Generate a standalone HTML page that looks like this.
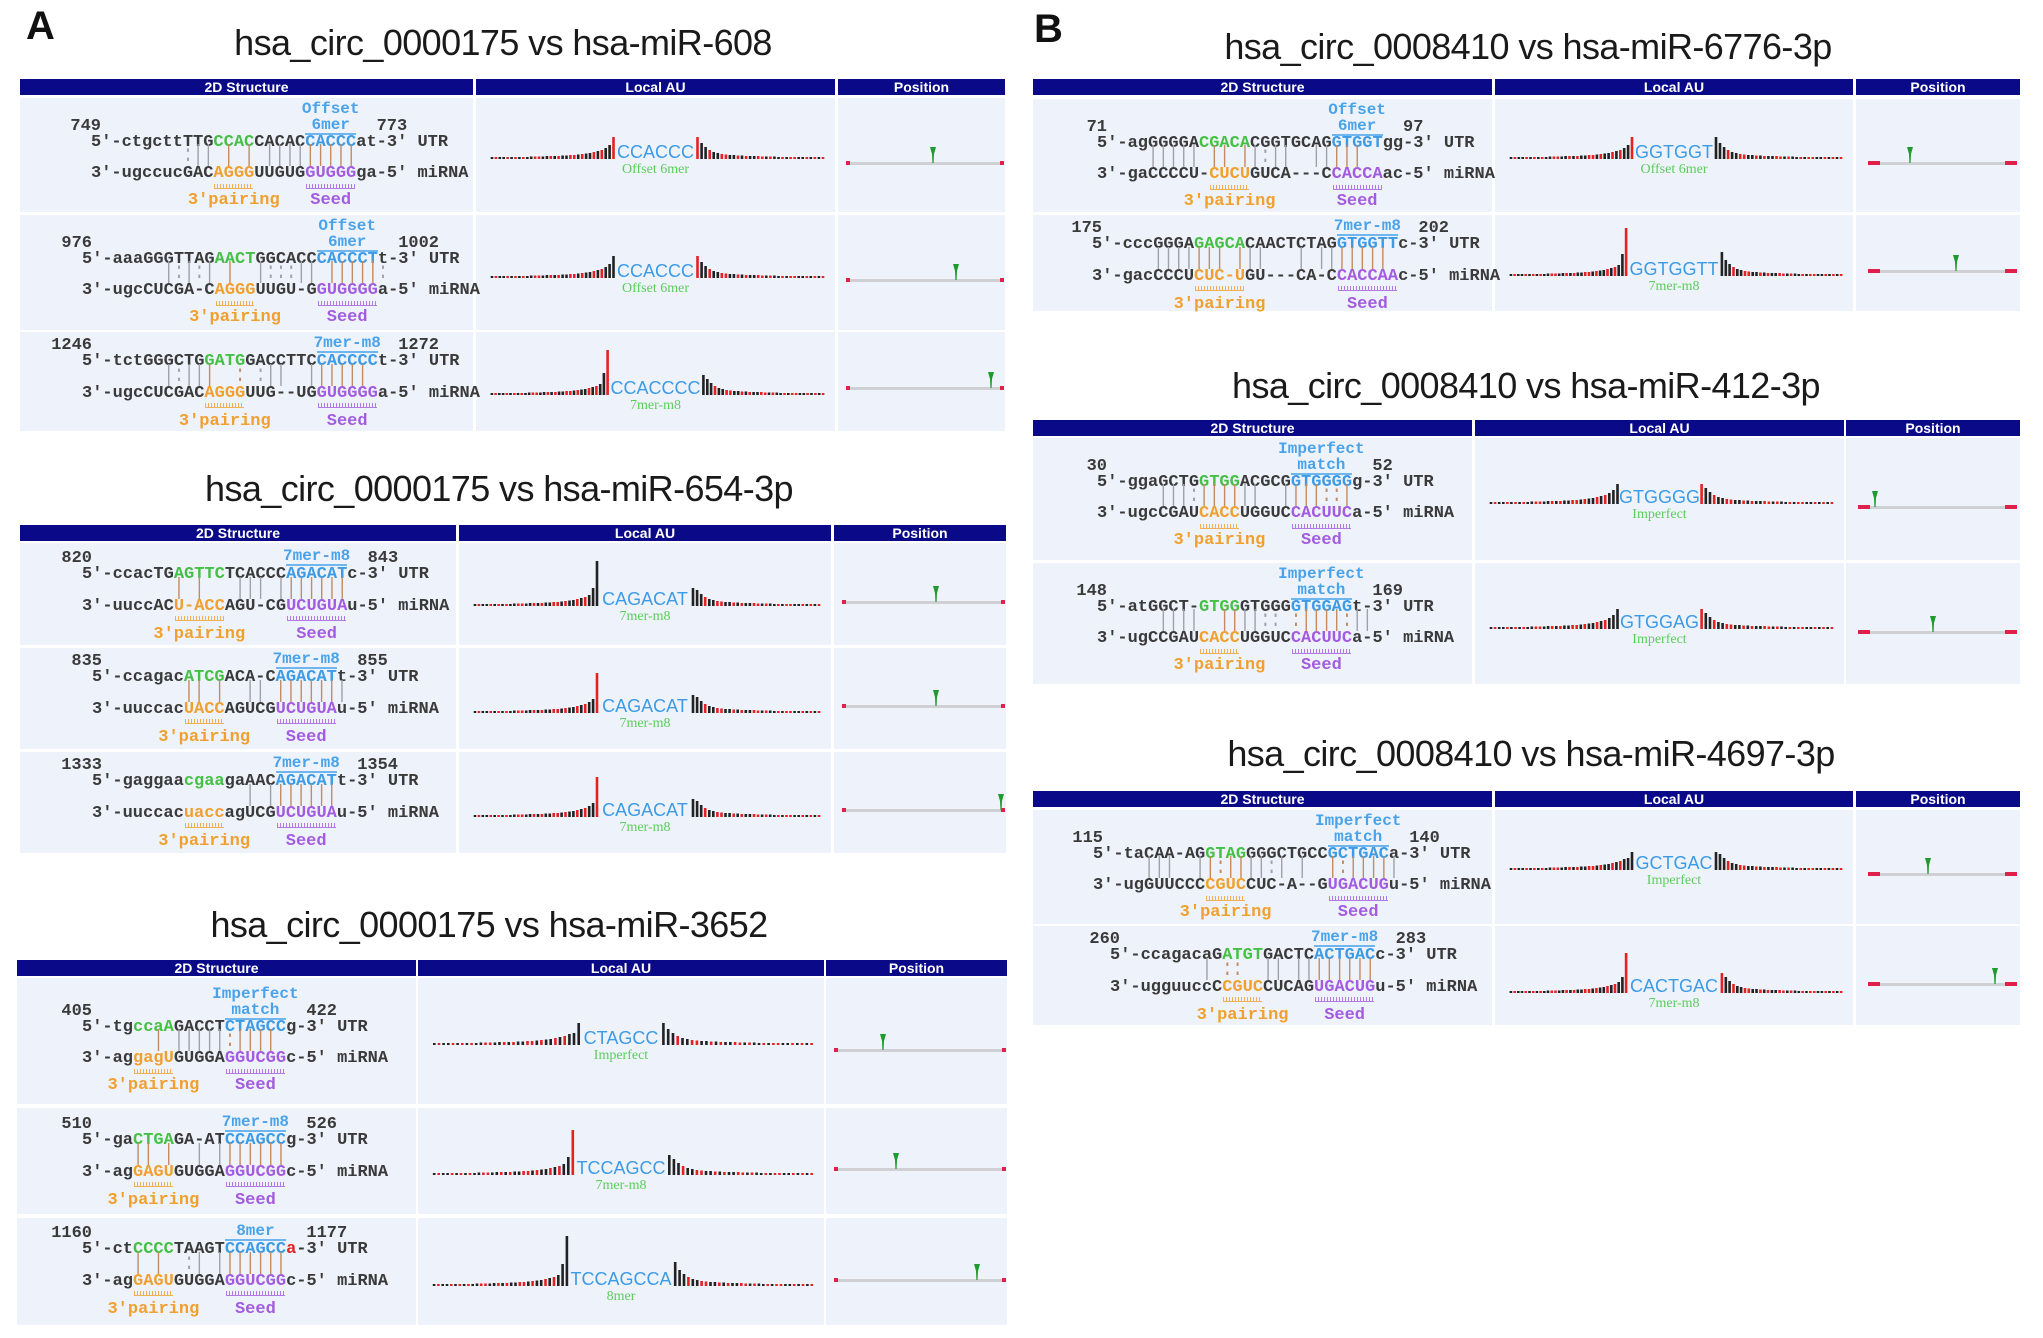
<!DOCTYPE html>
<html><head><meta charset="utf-8">
<style>
html,body{margin:0;padding:0;background:#fff;}
#root{position:relative;width:2043px;height:1338px;overflow:hidden;background:#fff;font-family:"Liberation Sans",sans-serif;}
.abs{position:absolute;}
.title{position:absolute;font-size:36px;color:#1a1a1a;white-space:nowrap;transform:translateX(-50%);line-height:40px;letter-spacing:-0.6px;}
.plabel{position:absolute;font-size:40px;font-weight:bold;color:#111;line-height:40px;}
.hdr{position:absolute;background:#0a0a88;color:#fff;font-weight:bold;font-size:14px;text-align:center;line-height:16px;height:16px;}
.cell{position:absolute;background:#eef3fb;}
.mono{position:absolute;font-family:"Liberation Mono",monospace;font-size:17px;line-height:20px;white-space:pre;color:#3a3a3a;font-weight:bold;}
</style></head><body>
<div id="root"></div>
<script>
// ---- chart data ----
var auLeftTail = [0,0,11,9,8,7,6,5.5,5,4.5,4,4,3.5,3.5,3,3,3,3,2.5,2.5,2.5,2.5,2,2,2,2,2,2,2,2,2,2];
var auRightTail = [0,16,12,9,7,6,5,4.5,4,4,3.5,3.5,3,3,3,3,2.5,2.5,2.5,2.5,2,2,2,2,2,2,2,2,2,2,2,2];
var auLeftColors = "rkkrkrkkrkrrkkrkrkkrrkkrkrkrkkrk";
var auRightColors = "rkkrkkrrkkrkrkkrrkrkkrkrrkkrkrkr";
var siteLabels = ["CCACCC","CCACCC","CCACCCC","CAGACAT","CAGACAT","CAGACAT","CTAGCC","TCCAGCC","TCCAGCCA","GGTGGT","GGTGGTT","GTGGGG","GTGGAG","GCTGAC","CACTGAC"];
var siteTypes = ["Offset 6mer","Offset 6mer","7mer-m8","7mer-m8","7mer-m8","7mer-m8","Imperfect","7mer-m8","8mer","Offset 6mer","7mer-m8","Imperfect","Imperfect","Imperfect","7mer-m8"];
var leftPeak1 = [22,22,45,45,40,40,22,45,50,22,48,20,20,18,40];
var leftPeak1Color = "rkrkrrkrkrrkkkr";
var leftPeak2 = [14,14,22,18,14,14,12,18,22,14,22,14,14,12,16];
var rightPeak = [22,22,20,18,18,18,22,20,24,22,24,20,20,18,20];
var rightPeakColor = "rrkkkkkkkkkrrkr";
var markerFrac = [0.55,0.70,0.93,0.58,0.58,0.99,0.28,0.36,0.84,0.28,0.59,0.11,0.47,0.40,0.85];

// ---- layout ----
var tables = [
 {x:[20,473,476,835,838,1005],hy:79,rows:[[98,212],[215,330],[332,431]],caps:'dot'},
 {x:[20,456,459,831,834,1006],hy:525,rows:[[543,645],[648,749],[752,853]],caps:'dot'},
 {x:[17,416,418,824,826,1007],hy:960,rows:[[978,1104],[1108,1214],[1218,1325]],caps:'dot'},
 {x:[1033,1492,1495,1853,1856,2020],hy:79,rows:[[99,212],[215,311]],caps:'bar'},
 {x:[1033,1472,1475,1844,1846,2020],hy:420,rows:[[438,560],[563,684]],caps:'bar'},
 {x:[1033,1492,1495,1853,1856,2020],hy:791,rows:[[810,924],[926,1025]],caps:'bar'}
];
var auBase = [159,278,395,606,713,817,1045,1175,1286,159,276,504,629,870,993];
var posY = [163,280,388,602,706,810,1050,1169,1280,163,271,507,632,874,984];

var structs = [
 {n1:"749",n2:"773",t:["Offset","6mer"],x:91,dy:0,u:"5'-ctgcttTTG{gCCAC}CACAC{bCACCC}at-3' UTR",p:"         :|| | | |||||||||",m:"3'-ugccucGAC{oAGGG}UUGUG{pGUGGG}ga-5' miRNA"},
 {n1:"976",n2:"1002",t:["Offset","6mer"],x:82,dy:0,u:"5'-aaaGGGTTAG{gAACT}GGCACC{bCACCCT}t-3' UTR",p:"        |:|:| |  |:::|| |||||:",m:"3'-ugcCUCGA-C{oAGGG}UUGU-G{pGUGGGG}a-5' miRNA"},
 {n1:"1246",n2:"1272",t:["7mer-m8"],x:82,dy:0,u:"5'-tctGGGCTG{gGATG}GACCTTC{bCACCCC}t-3' UTR",p:"        |:|||  : :||  ||||||",m:"3'-ugcCUCGAC{oAGGG}UUG--UG{pGUGGGG}a-5' miRNA"},
 {n1:"820",n2:"843",t:["7mer-m8"],x:82,dy:2,u:"5'-ccacTG{gAGTTC}TCACCC{bAGACAT}c-3' UTR",p:"         | |   ||| |||||||",m:"3'-uuccAC{oU-ACC}AGU-CG{pUCUGUA}u-5' miRNA"},
 {n1:"835",n2:"855",t:["7mer-m8"],x:92,dy:0,u:"5'-ccagac{gATCG}ACA-C{bAGACAT}t-3' UTR",p:"         || |  || |||||||",m:"3'-uuccac{oUACC}AGUCG{pUCUGUA}u-5' miRNA"},
 {n1:"1333",n2:"1354",t:["7mer-m8"],x:92,dy:0,u:"5'-gaggaa{gcgaa}gaAAC{bAGACAT}t-3' UTR",p:"               | |||||||",m:"3'-uuccac{ouacc}agUCG{pUCUGUA}u-5' miRNA"},
 {n1:"405",n2:"422",t:["Imperfect","match"],x:82,dy:5,u:"5'-tg{gccaA}GACCT{bCTAGCC}g-3' UTR",p:"       | |||||:||||",m:"3'-ag{ogagU}GUGGA{pGGUCGG}c-5' miRNA"},
 {n1:"510",n2:"526",t:["7mer-m8"],x:82,dy:3,u:"5'-ga{gCTGA}GA-AT{bCCAGCC}g-3' UTR",p:"     || |  | |||||||",m:"3'-ag{oGAGU}GUGGA{pGGUCGG}c-5' miRNA"},
 {n1:"1160",n2:"1177",t:["8mer"],x:82,dy:2,u:"5'-ct{gCCCC}TAAGT{bCCAGCC}{ra}-3' UTR",p:"     | |  :| |||||||",m:"3'-ag{oGAGU}GUGGA{pGGUCGG}c-5' miRNA"},
 {n1:"71",n2:"97",t:["Offset","6mer"],x:1097,dy:0,u:"5'-agGGGGA{gCGACA}CGGTGCAG{bGTGGT}gg-3' UTR",p:"     ||||| || ||:||  |||||",m:"3'-gaCCCCU-{oCUCU}GUCA---C{pCACCA}ac-5' miRNA"},
 {n1:"175",n2:"202",t:["7mer-m8"],x:1092,dy:0,u:"5'-cccGGGA{gGAGCA}CAACTCTAG{bGTGGTT}c-3' UTR",p:"      ||||||| |||   | |||||||",m:"3'-gacCCCU{oCUC-U}GU---CA-C{pCACCAA}c-5' miRNA"},
 {n1:"30",n2:"52",t:["Imperfect","match"],x:1097,dy:0,u:"5'-ggaGCTG{gGTGG}ACGCG{bGTGGGG}g-3' UTR",p:"      |||:||||||  ||||::|",m:"3'-ugcCGAU{oCACC}UGGUC{pCACUUC}a-5' miRNA"},
 {n1:"148",n2:"169",t:["Imperfect","match"],x:1097,dy:0,u:"5'-atGGCT-{gGTGG}GTGGG{bGTGGAG}t-3' UTR",p:"      ||||  ||||:: :||||:||",m:"3'-ugCCGAU{oCACC}UGGUC{pCACUUC}a-5' miRNA"},
 {n1:"115",n2:"140",t:["Imperfect","match"],x:1093,dy:0,u:"5'-taCAA-AG{gGTAG}GGGCTGCC{bGCTGAC}a-3' UTR",p:"     |||  ||:||||:| |  |:|||||",m:"3'-ugGUUCCC{oCGUC}CUC-A--G{pUGACUG}u-5' miRNA"},
 {n1:"260",n2:"283",t:["7mer-m8"],x:1110,dy:0,u:"5'-ccagacaG{gATGT}GACTC{bACTGAC}c-3' UTR",p:"         | ::  || ||||||||",m:"3'-ugguuccC{oCGUC}CUCAG{pUGACUG}u-5' miRNA"}
];

var titles = [
 {t:"hsa_circ_0000175 vs hsa-miR-608",x:503,y:43},
 {t:"hsa_circ_0000175 vs hsa-miR-654-3p",x:499,y:489},
 {t:"hsa_circ_0000175 vs hsa-miR-3652",x:489,y:925},
 {t:"hsa_circ_0008410 vs hsa-miR-6776-3p",x:1528,y:47},
 {t:"hsa_circ_0008410 vs hsa-miR-412-3p",x:1526,y:386},
 {t:"hsa_circ_0008410 vs hsa-miR-4697-3p",x:1531,y:754}
];

var COL = {g:"#45c045",b:"#3d9be6",o:"#f0a030",p:"#a35ce0",r:"#e02424"};
var CW = 10.2;
var root = document.getElementById('root');
var NS = "http://www.w3.org/2000/svg";

function div(cls, css, txt){
  var d = document.createElement('div');
  if(cls) d.className = cls;
  for(var k in css) d.style[k] = css[k];
  if(txt!==undefined) d.textContent = txt;
  root.appendChild(d);
  return d;
}
function parse(s){
  var plain="", html="", segs=[], i=0;
  while(i<s.length){
    if(s[i]=='{'){
      var c=s[i+1], j=s.indexOf('}',i);
      var t=s.substring(i+2,j);
      segs.push({c:c,start:plain.length,end:plain.length+t.length});
      html+='<span style="color:'+COL[c]+'">'+t+'</span>';
      plain+=t; i=j+1;
    } else { plain+=s[i]; html+=s[i]; i++; }
  }
  return {plain:plain,html:html,segs:segs};
}
function seg(p,c){for(var i=0;i<p.segs.length;i++) if(p.segs[i].c==c) return p.segs[i]; return null;}

var la = div('plabel',{left:'26px',top:'6px'},'A');
 
var lb = div('plabel',{left:'1034px',top:'9px'},'B');
 

titles.forEach(function(t){
  var d = div('title',{left:t.x+'px',top:(t.y-20)+'px'},t.t);
  
  
});

var heads = ["2D Structure","Local AU","Position"];
var rowIdx = 0;
tables.forEach(function(tb){
  for(var c=0;c<3;c++){
    var h = div('hdr',{left:tb.x[c*2]+'px',top:tb.hy+'px',width:(tb.x[c*2+1]-tb.x[c*2])+'px'},heads[c]);
    
    
  }
  tb.rows.forEach(function(r){
    var i = rowIdx++;
    for(var c=0;c<3;c++){
      var ce = div('cell',{left:tb.x[c*2]+'px',top:r[0]+'px',width:(tb.x[c*2+1]-tb.x[c*2])+'px',height:(r[1]-r[0])+'px'});
      
      
    }
    drawStruct(structs[i], r[0]);
    drawAU(i, tb.x[2], tb.x[3]);
    drawPos(i, tb.x[4], tb.x[5], tb.caps);
  });
});

function drawStruct(s, top){
  var two = s.t.length==2;
  var o = two ? {t1:11,t2:27,num:29,u:45,p:60,m:76,mk:89,l:103} : {t1:11,num:14,u:30,p:46,m:62,mk:74,l:90};
  var base = top + s.dy;
  var x0 = s.x;
  var U = parse(s.u), M = parse(s.m);
  var bS = seg(U,'b'), gS = seg(U,'g'), oS = seg(M,'o'), pS = seg(M,'p');
  var n1 = div('mono',{left:(x0+10-s.n1.length*CW)+'px',top:(base+o.num-10)+'px'},s.n1);
   
  var n2 = div('mono',{left:(x0+(bS.end+2)*CW)+'px',top:(base+o.num-10)+'px'},s.n2);
   
  var cx = x0+(bS.start+bS.end)/2*CW;
  s.t.forEach(function(tt,k){
    var d = div('mono',{left:cx+'px',top:(base+(k==0?o.t1:o.t2)-10)+'px',color:'#4aa3ea',transform:'translateX(-50%)',fontSize:'16px'},tt);
     
  });
  var lastY = base+(two?o.t2:o.t1)+8;
  var ul = div('',{position:'absolute',left:(x0+bS.start*CW)+'px',top:lastY+'px',width:((bS.end-bS.start)*CW)+'px',height:'2px',background:'#6fb6ee'});
   
  var u = div('mono',{left:x0+'px',top:(base+o.u-10)+'px'}); u.innerHTML = U.html;
   
  var ph = "";
  for(var i=0;i<s.p.length;i++){
    var ch = s.p[i];
    if(ch==' '){ph+=' ';continue;}
    var brown = (gS && i>=gS.start && i<gS.end) || (bS && i>=bS.start && i<bS.end);
    ph += '<span style="color:'+(brown?'#c48a62':'#a0a0a8')+'">'+ch+'</span>';
  }
  var p = div('mono',{left:x0+'px',top:(base+o.p-11)+'px',fontWeight:'normal',transform:'scaleY(1.35)'}); p.innerHTML = ph;
   
  var m = div('mono',{left:x0+'px',top:(base+o.m-10)+'px'}); m.innerHTML = M.html;
   
  [[oS,'#f0a030','3\'pairing','pairing-label'],[pS,'#a35ce0','Seed','seed-label']].forEach(function(a){
    var sg=a[0]; if(!sg) return;
    var mk = div('',{position:'absolute',left:(x0+sg.start*CW+1)+'px',top:(base+o.mk-3)+'px',width:((sg.end-sg.start)*CW-2)+'px',height:'4px',borderBottom:'1px solid '+a[1],background:'repeating-linear-gradient(90deg,'+a[1]+' 0 1px,transparent 1px 3px)',opacity:'0.8'});
     
    var lb = div('mono',{left:(x0+(sg.start+sg.end)/2*CW)+'px',top:(base+o.l-10)+'px',color:a[1],transform:'translateX(-50%)'},a[2]);
     
  });
}

function drawAU(i, cl, cr){
  var w = cr-cl, base = auBase[i];
  var svg = document.createElementNS(NS,'svg');
  svg.setAttribute('width',w); svg.setAttribute('height',90);
  svg.style.position='absolute'; svg.style.left=cl+'px'; svg.style.top=(base-65)+'px';
  
  
  root.appendChild(svg);
  var yb = 65;
  var label = siteLabels[i];
  var lw = label.length*12;
  var cx = w/2;
  var leftEnd = cx - lw/2 - 4, rightStart = cx + lw/2 + 4;
  var leftStart = 14, rightEnd = w-10;
  var n = auLeftTail.length;
  var sl = (leftEnd-leftStart)/n, sr = (rightEnd-rightStart)/n;
  function bar(x,h,c,name){
    var r = document.createElementNS(NS,'rect');
    r.setAttribute('x',(x-1.3).toFixed(1)); r.setAttribute('y',(yb-h).toFixed(1));
    r.setAttribute('width',2.6); r.setAttribute('height',h.toFixed(1));
    r.setAttribute('fill',c=='r'?'#e42222':'#222');
    
    
    svg.appendChild(r);
  }
  for(var k=0;k<n;k++){
    var h = k==0?leftPeak1[i]:(k==1?leftPeak2[i]:auLeftTail[k]);
    var c = k==0?leftPeak1Color[i]:auLeftColors[k];
    bar(leftEnd - k*sl - sl/2, h, c, 'au-bar-left');
  }
  for(var k=0;k<n;k++){
    var h = k==0?rightPeak[i]:auRightTail[k];
    var c = k==0?rightPeakColor[i]:auRightColors[k];
    bar(rightStart + k*sr + sr/2, h, c, 'au-bar-right');
  }
  var t = document.createElementNS(NS,'text');
  t.setAttribute('x',cx); t.setAttribute('y',yb-1); t.setAttribute('text-anchor','middle');
  t.setAttribute('font-family','Liberation Sans, sans-serif'); t.setAttribute('font-size','18');
  t.setAttribute('fill','#3d9be6'); t.textContent = label;
  
  
  svg.appendChild(t);
  var t2 = document.createElementNS(NS,'text');
  t2.setAttribute('x',cx); t2.setAttribute('y',yb+14); t2.setAttribute('text-anchor','middle');
  t2.setAttribute('font-family','Liberation Serif, serif'); t2.setAttribute('font-size','14');
  t2.setAttribute('fill','#5ccc5c'); t2.textContent = siteTypes[i];
  
  
  svg.appendChild(t2);
}

function drawPos(i, cl, cr, caps){
  var y = posY[i];
  var x1 = cl+ (caps=='bar'?12:10), x2 = cr-3;
  var ln = div('',{position:'absolute',left:x1+'px',top:(y-1.5)+'px',width:(x2-x1)+'px',height:'3px',background:'#cfcfd4'});
   
  var cw = caps=='bar'?12:4;
  var c1 = div('',{position:'absolute',left:(x1-(caps=='bar'?0:2))+'px',top:(y-2)+'px',width:cw+'px',height:'4px',background:'#e0204a'});
   
  var c2 = div('',{position:'absolute',left:(x2-cw+(caps=='bar'?0:2))+'px',top:(y-2)+'px',width:cw+'px',height:'4px',background:'#e0204a'});
   
  var mx = x1 + markerFrac[i]*(x2-x1);
  var mk = document.createElementNS(NS,'svg');
  mk.setAttribute('width',8); mk.setAttribute('height',18);
  mk.style.position='absolute'; mk.style.left=(mx-4)+'px'; mk.style.top=(y-17)+'px';
  
  
  var pth = document.createElementNS(NS,'path');
  pth.setAttribute('d','M1 1 L7 1 L5 8 L4.6 17 L3.4 17 L3 8 Z');
  pth.setAttribute('fill','#1e9a2e');
  mk.appendChild(pth);
  root.appendChild(mk);
}
</script>
</body></html>
